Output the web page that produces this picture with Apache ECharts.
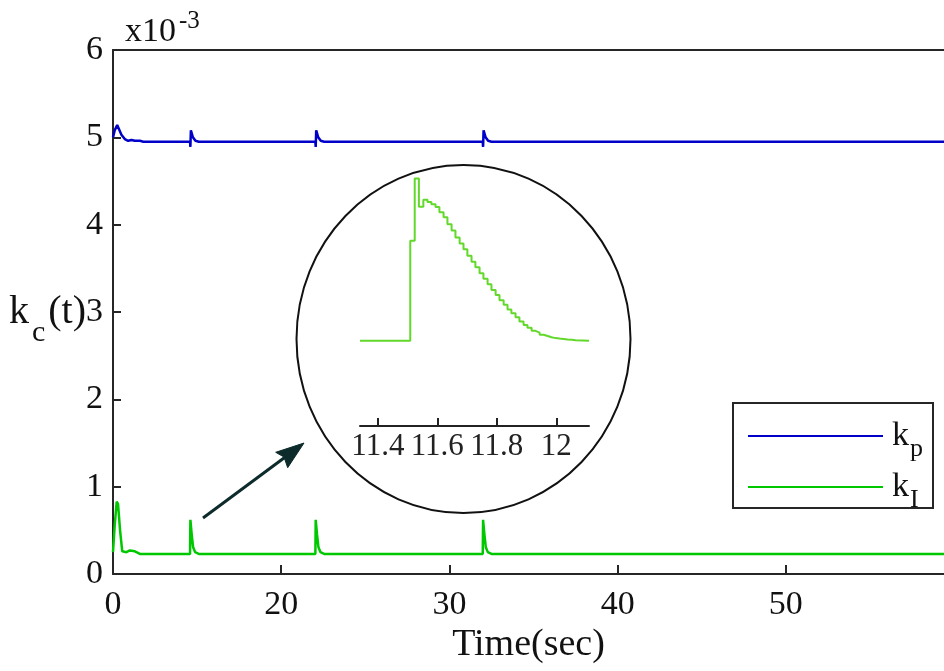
<!DOCTYPE html>
<html>
<head>
<meta charset="utf-8">
<script src="https://cdn.jsdelivr.net/npm/echarts@6/dist/echarts.min.js"></script>
<style>
  html, body { margin: 0; padding: 0; background: #ffffff; }
  #chart { width: 944px; height: 671px; }
</style>
</head>
<body>
<div id="chart"></div>
<script>
// Main time axis ticks and their printed labels
const xTickValues = [10, 20, 30, 40, 50];
const xTickLabels = ['0', '20', '30', '40', '50'];
const yTickLabels = ['0', '1', '2', '3', '4', '5', '6'];

// Controller gains, in units of 1e-3: [time, value]
const kpPoints = [
  [10.0, 5.00], [10.1, 5.08], [10.25, 5.14], [10.35, 5.12], [10.5, 5.03],
  [10.7, 4.98], [10.9, 4.96], [11.1, 4.97], [11.3, 4.96], [11.6, 4.96], [11.8, 4.95],
  [14.58, 4.95], [14.6, 4.89], [14.63, 5.08], [14.75, 5.00], [14.9, 4.96], [15.1, 4.95],
  [22.03, 4.95], [22.05, 4.89], [22.08, 5.08], [22.2, 5.00], [22.35, 4.96], [22.55, 4.95],
  [31.98, 4.95], [32.0, 4.89], [32.03, 5.08], [32.15, 5.00], [32.3, 4.96], [32.5, 4.95],
  [59.4, 4.95]
];
const kIPoints = [
  [10.0, 0.25], [10.1, 0.55], [10.22, 0.83], [10.3, 0.80], [10.42, 0.50],
  [10.55, 0.26], [10.8, 0.25], [11.0, 0.27], [11.3, 0.26], [11.6, 0.23],
  [14.58, 0.23], [14.6, 0.62], [14.68, 0.45], [14.76, 0.31], [14.88, 0.25], [15.1, 0.23],
  [22.03, 0.23], [22.05, 0.62], [22.13, 0.45], [22.21, 0.31], [22.33, 0.25], [22.55, 0.23],
  [31.98, 0.23], [32.0, 0.62], [32.08, 0.45], [32.16, 0.31], [32.28, 0.25], [32.5, 0.23],
  [59.4, 0.23]
];

// Close-up of one k_I transient (sampled, zero-order hold)
const zoomTime = [
  11.340, 11.509, 11.524, 11.538, 11.553, 11.567, 11.580, 11.594, 11.607, 11.621,
  11.634, 11.648, 11.661, 11.675, 11.688, 11.701, 11.715, 11.728, 11.742, 11.755,
  11.769, 11.782, 11.796, 11.809, 11.823, 11.836, 11.849, 11.863, 11.876, 11.890,
  11.903, 11.917, 11.930, 11.944, 11.957, 11.971, 11.984, 11.998, 12.011, 12.025,
  12.038, 12.052, 12.065, 12.110
];
const zoomKI = [
  0.240, 0.474, 0.620, 0.554, 0.570, 0.565, 0.560, 0.553, 0.541, 0.529,
  0.513, 0.498, 0.482, 0.468, 0.454, 0.439, 0.425, 0.412, 0.398, 0.385,
  0.372, 0.359, 0.347, 0.335, 0.324, 0.313, 0.304, 0.295, 0.285, 0.277,
  0.270, 0.263, 0.259, 0.254, 0.251, 0.248, 0.246, 0.245, 0.244, 0.243,
  0.242, 0.241, 0.240, 0.240
];
const zoomTickValues = [11.4, 11.6, 11.8, 12];
const zoomTickLabels = ['11.4', '11.6', '11.8', '12'];

const SERIF = 'Liberation Serif';
const AXIS = '#262626';
const BLUE = '#0000c8';
const GREEN = '#00c800';
const LIGHT_GREEN = '#62d82a';

const chart = echarts.init(document.getElementById('chart'), null, { renderer: 'canvas' });

const subRich = {
  k: { fontFamily: SERIF, fontSize: 34, color: '#111', verticalAlign: 'top', lineHeight: 34 },
  s: { fontFamily: SERIF, fontSize: 26, color: '#111', verticalAlign: 'top', lineHeight: 26, padding: [17, 0, 0, 1] }
};

chart.setOption({
  animation: false,
  backgroundColor: '#ffffff',
  title: {
    text: '{a|x10}{b|-3}',
    left: 125,
    top: 5,
    padding: 0,
    textStyle: {
      fontWeight: 'normal',
      rich: {
        a: { fontFamily: SERIF, fontSize: 34, fontWeight: 'normal', color: '#111', verticalAlign: 'top', lineHeight: 34, padding: [10, 0, 0, 0] },
        b: { fontFamily: SERIF, fontSize: 25, fontWeight: 'normal', color: '#111', verticalAlign: 'top', lineHeight: 25, padding: [4, 0, 0, 3] }
      }
    }
  },
  legend: {
    orient: 'vertical',
    left: 748,
    top: 419,
    padding: 0,
    itemWidth: 135,
    itemHeight: 2,
    itemGap: 8,
    icon: 'rect',
    selectedMode: false,
    data: ['kp', 'kI'],
    formatter: function (name) {
      return name === 'kp' ? '{k|k}{s|p}' : '{k|k}{s|I}';
    },
    textStyle: { rich: subRich, padding: [0, 0, 0, 4] }
  },
  grid: [
    { left: 113, top: 50, right: 0, bottom: 97, containLabel: false },
    { left: 360, top: 170, width: 229, height: 256, containLabel: false }
  ],
  xAxis: [
    {
      gridIndex: 0,
      type: 'value',
      min: 10,
      max: 59.4,
      position: 'bottom',
      name: 'Time(sec)',
      nameLocation: 'middle',
      nameGap: 52,
      nameMoveOverlap: false,
      nameTextStyle: { fontFamily: SERIF, fontSize: 38, color: '#111' },
      axisLine: { show: true, lineStyle: { color: AXIS, width: 2 } },
      axisTick: { show: true, inside: true, length: 9, customValues: xTickValues, lineStyle: { color: AXIS, width: 2 } },
      axisLabel: {
        show: true,
        margin: 14,
        customValues: xTickValues,
        fontFamily: SERIF,
        fontSize: 34,
        color: '#111',
        formatter: function (v) {
          const i = xTickValues.indexOf(v);
          return i >= 0 ? xTickLabels[i] : '';
        }
      },
      splitLine: { show: false }
    },
    {
      gridIndex: 0,
      type: 'value',
      min: 10,
      max: 59.4,
      position: 'top',
      axisLine: { show: true, lineStyle: { color: AXIS, width: 2 } },
      axisTick: { show: false },
      axisLabel: { show: false },
      splitLine: { show: false }
    },
    {
      gridIndex: 1,
      type: 'value',
      min: 11.34,
      max: 12.11,
      position: 'bottom',
      axisLine: { show: true, lineStyle: { color: '#222', width: 2 } },
      axisTick: { show: true, inside: true, length: 8, customValues: zoomTickValues, lineStyle: { color: '#222', width: 2 } },
      axisLabel: {
        show: true,
        margin: 5,
        customValues: zoomTickValues,
        fontFamily: SERIF,
        fontSize: 31,
        color: '#222',
        formatter: function (v) {
          const i = zoomTickValues.findIndex(t => Math.abs(t - v) < 1e-6);
          return i >= 0 ? zoomTickLabels[i] : '';
        }
      },
      splitLine: { show: false }
    }
  ],
  yAxis: [
    {
      gridIndex: 0,
      type: 'value',
      min: 0,
      max: 6,
      interval: 1,
      name: '{k|k}{c|c}{t|(t)}',
      nameLocation: 'middle',
      nameRotate: 0,
      nameGap: 27,
      nameMoveOverlap: false,
      nameTextStyle: {
        align: 'right',
        verticalAlign: 'middle',
        rich: {
          k: { fontFamily: SERIF, fontSize: 40, color: '#111', verticalAlign: 'top', lineHeight: 40 },
          c: { fontFamily: SERIF, fontSize: 30, color: '#111', verticalAlign: 'top', lineHeight: 30, padding: [26, 3, 0, 3] },
          t: { fontFamily: SERIF, fontSize: 40, color: '#111', verticalAlign: 'top', lineHeight: 40 }
        }
      },
      axisLine: { show: true, lineStyle: { color: AXIS, width: 2 } },
      axisTick: { show: true, inside: true, length: 8, lineStyle: { color: AXIS, width: 2 } },
      axisLabel: {
        show: true,
        margin: 10,
        fontFamily: SERIF,
        fontSize: 34,
        color: '#111',
        formatter: function (v) { return yTickLabels[Math.round(v)]; }
      },
      splitLine: { show: false }
    },
    {
      gridIndex: 1,
      type: 'value',
      min: 0.04,
      max: 0.64,
      show: false,
      splitLine: { show: false }
    }
  ],
  graphic: [
    {
      type: 'ellipse',
      shape: { cx: 463.5, cy: 339, rx: 167, ry: 174 },
      style: { fill: 'none', stroke: '#111', lineWidth: 2 },
      z: 1
    },
    {
      type: 'line',
      shape: { x1: 203, y1: 518, x2: 288, y2: 455 },
      style: { stroke: '#0d2b2b', lineWidth: 3 },
      z: 1
    },
    {
      type: 'polygon',
      shape: { points: [[304, 443], [287.7, 467.7], [284, 457], [275.7, 452.3]] },
      style: { fill: '#0d2b2b', stroke: '#0d2b2b', lineWidth: 1 },
      z: 1
    },
    {
      type: 'rect',
      shape: { x: 733, y: 403, width: 200, height: 105 },
      style: { fill: '#ffffff', stroke: AXIS, lineWidth: 2 },
      z: 0
    }
  ],
  series: [
    {
      name: 'kp',
      type: 'line',
      xAxisIndex: 0,
      yAxisIndex: 0,
      data: kpPoints,
      showSymbol: false,
      symbol: 'none',
      color: BLUE,
      lineStyle: { color: BLUE, width: 2.5 },
      z: 3
    },
    {
      name: 'kI',
      type: 'line',
      xAxisIndex: 0,
      yAxisIndex: 0,
      data: kIPoints,
      showSymbol: false,
      symbol: 'none',
      color: GREEN,
      lineStyle: { color: GREEN, width: 2.5 },
      z: 3
    },
    {
      name: 'kI close-up',
      type: 'line',
      xAxisIndex: 2,
      yAxisIndex: 1,
      data: zoomTime.map((t, i) => [t, zoomKI[i]]),
      step: 'end',
      showSymbol: false,
      symbol: 'none',
      color: LIGHT_GREEN,
      lineStyle: { color: LIGHT_GREEN, width: 2 },
      z: 3
    }
  ]
});
</script>
</body>
</html>
